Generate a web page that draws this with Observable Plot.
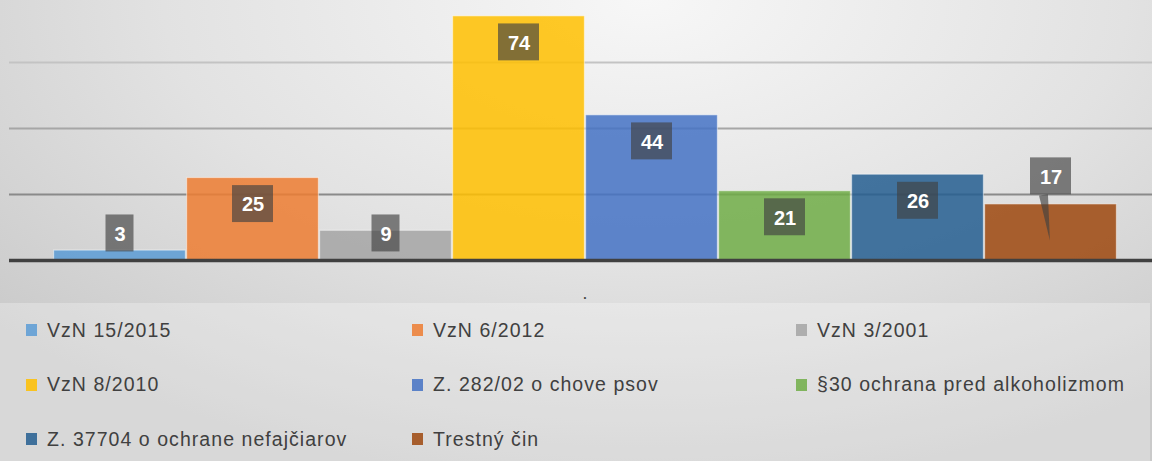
<!DOCTYPE html>
<html>
<head>
<meta charset="utf-8">
<script src="https://cdn.jsdelivr.net/npm/d3@7"></script>
<script src="https://cdn.jsdelivr.net/npm/@observablehq/plot@0.6"></script>
<style>
  html, body { margin: 0; padding: 0; }
  body {
    width: 1152px; height: 461px; overflow: hidden; position: relative;
    background: radial-gradient(ellipse 76% 105% at 56% 0%, #f7f7f7 0%, #e2e2e2 55%, #cacaca 100%);
    font-family: "Liberation Sans", Arial, sans-serif;
  }
  #chart { position: absolute; left: 0; top: 0; }
  #legend {
    position: absolute; left: 0; top: 303px; width: 1150px; height: 158px;
    background: rgba(255,255,255,0.28);
    box-sizing: border-box; padding-left: 26px; padding-top: 0px;
    display: grid; grid-template-columns: 386px 384px 380px; grid-auto-rows: 54.5px;
  }
  .item { display: flex; align-items: center; font-size: 19.5px; letter-spacing: 1.05px; color: #404040; white-space: nowrap; }
  .sw { width: 11px; height: 12px; margin-right: 10px; flex: none; opacity: 0.85; }
</style>
</head>
<body>
<div id="chart"></div>
<div id="legend"></div>
<script>
const series = ["VzN 15/2015", "VzN 6/2012", "VzN 3/2001", "VzN 8/2010", "Z. 282/02 o chove psov", "§30 ochrana pred alkoholizmom", "Z. 37704 o ochrane nefajčiarov", "Trestný čin"];
const values = [3, 25, 9, 74, 44, 21, 26, 17];
const colors = ["#5b9bd5", "#ed7d31", "#a5a5a5", "#ffc000", "#4472c4", "#70ad47", "#255e91", "#9e480e"];
const gridTicks = [20, 40, 60];
const calloutSeries = "Trestný čin";
const categoryLabel = ".";

const data = series.map((s, i) => ({series: s, value: values[i]}));
const gridColor = {20: "#8a8a8a", 40: "#a6a6a6", 60: "#c3c3c3"};
const half = 5.6;
const labelY = d => d.series === calloutSeries ? d.value + 8.5 : Math.max(d.value - 7.9, 8.2);
const oneDigit = data.filter(d => String(d.value).length === 1);
const twoDigit = data.filter(d => String(d.value).length !== 1);
const boxStyle = {fill: "#404040", fillOpacity: 0.65};

const chart = Plot.plot({
  width: 1152, height: 303,
  marginLeft: 9, marginRight: 0, marginTop: 0, marginBottom: 43,
  style: {background: "transparent", overflow: "visible"},
  x: {domain: series, range: [10, 1160], paddingInner: 0, paddingOuter: 0.32, axis: null},
  y: {domain: [0, 78.8], axis: null},
  color: {domain: series, range: colors},
  marks: [
    ...gridTicks.map(t => Plot.ruleY([t], {stroke: gridColor[t], strokeWidth: 2})),
    Plot.barY(data, {x: "series", y: "value", fill: "series", fillOpacity: 0.85,
      stroke: "white", strokeOpacity: 0.45, strokeWidth: 1.2, insetLeft: 0.6, insetRight: 0.6}),
    Plot.ruleY([0], {stroke: "#404040", strokeWidth: 3.5}),
    Plot.barY(oneDigit, {x: "series", y1: d => labelY(d) - half, y2: d => labelY(d) + half, ...boxStyle, insetLeft: 52.5, insetRight: 52.5}),
    Plot.barY(twoDigit, {x: "series", y1: d => labelY(d) - half, y2: d => labelY(d) + half, ...boxStyle, insetLeft: 46, insetRight: 46}),
    Plot.vector(data.filter(d => d.series === calloutSeries), {x: "series", y: d => labelY(d) - half,
      rotate: 172, length: 46, shape: "spike", r: 4.5, anchor: "start", ...boxStyle, stroke: "none", dx: -7.5}),
    Plot.text(data, {x: "series", y: labelY, text: d => String(d.value), fill: "white",
      fontWeight: "bold", fontSize: 20, fontFamily: "Liberation Sans, Arial, sans-serif", dy: 1}),
    Plot.text([categoryLabel], {frameAnchor: "bottom", dy: 38, dx: 4, fontSize: 12, fill: "#404040", fontWeight: "bold"})
  ]
});
document.getElementById("chart").appendChild(chart);

const legend = document.getElementById("legend");
series.forEach((s, i) => {
  const item = document.createElement("div");
  item.className = "item";
  const sw = document.createElement("span");
  sw.className = "sw";
  sw.style.background = colors[i];
  const t = document.createElement("span");
  t.textContent = s;
  item.appendChild(sw);
  item.appendChild(t);
  legend.appendChild(item);
});
</script>
</body>
</html>
